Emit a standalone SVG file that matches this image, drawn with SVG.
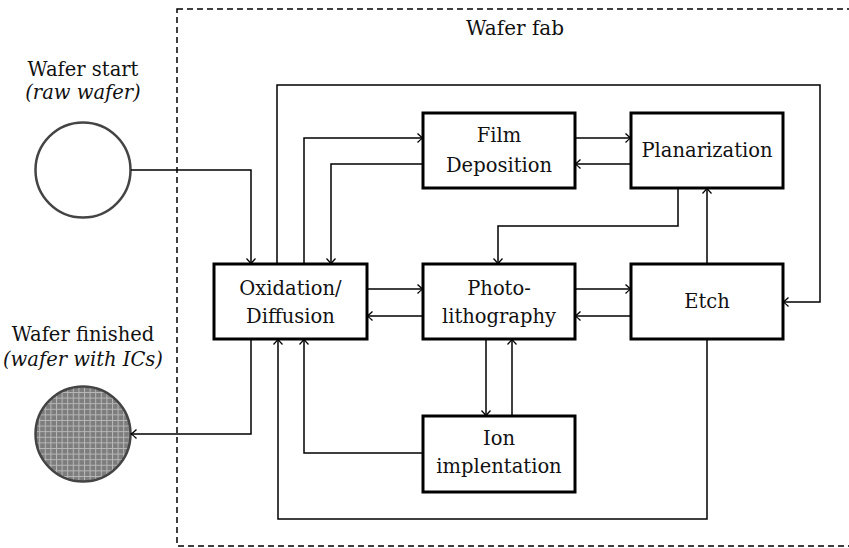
<svg xmlns="http://www.w3.org/2000/svg" width="849" height="548" viewBox="0 0 849 548">
<defs>
<style>
.box{fill:#fff;stroke:#000;stroke-width:3}
.t{font-family:"DejaVu Serif","Liberation Serif",serif;font-size:19.5px;fill:#111;text-anchor:middle}
.it{font-style:italic}
.c{fill:none;stroke:#000;stroke-width:1.5;marker-end:url(#ah)}
</style>
<marker id="ah" markerUnits="userSpaceOnUse" markerWidth="14" markerHeight="14" viewBox="-8 -7 10 14" refX="0" refY="0" orient="auto">
<path d="M-5.5,-4.5 Q-2,-1 0,0 Q-2,1 -5.5,4.5" fill="none" stroke="#000" stroke-width="1.3"/>
</marker>
<pattern id="grid" patternUnits="userSpaceOnUse" width="5.6" height="5.6">
<rect width="5.6" height="5.6" fill="#7d7d7d"/>
<path d="M0,0.5 H5.6 M0.5,0 V5.6" stroke="#b8b8b8" stroke-width="1"/>
</pattern>
</defs>
<rect x="177" y="9" width="700" height="537" fill="none" stroke="#000" stroke-width="1.5" stroke-dasharray="6,4"/>
<text class="t" x="515" y="35" style="font-size:20px">Wafer fab</text>
<g id="start">
<circle cx="83" cy="170" r="47.5" fill="#fff" stroke="#444" stroke-width="2.5"/>
<text class="t" x="83" y="76">Wafer start</text>
<text class="t it" x="83" y="99">(raw wafer)</text>
</g>
<g id="finished">
<circle cx="83" cy="434" r="47.5" fill="url(#grid)" stroke="#444" stroke-width="2.5"/>
<text class="t" x="83" y="341">Wafer finished</text>
<text class="t it" x="83" y="366">(wafer with ICs)</text>
</g>
<g id="connectors">
<path class="c" d="M131,170 H251 V264"/>
<path class="c" d="M277,264 V85 H820 V302 H783"/>
<path class="c" d="M304,264 V138 H423"/>
<path class="c" d="M423,164 H331 V264"/>
<path class="c" d="M575,138 H631"/>
<path class="c" d="M631,164 H575"/>
<path class="c" d="M678,188 V226 H498 V264"/>
<path class="c" d="M707,264 V188"/>
<path class="c" d="M367,289 H423"/>
<path class="c" d="M423,316 H367"/>
<path class="c" d="M575,289 H631"/>
<path class="c" d="M631,316 H575"/>
<path class="c" d="M486,339 V416"/>
<path class="c" d="M512,416 V339"/>
<path class="c" d="M423,453 H304 V339"/>
<path class="c" d="M707,339 V519 H278 V339"/>
<path class="c" d="M251,339 V434 H131"/>
</g>
<g id="oxidation">
<rect class="box" x="214" y="264" width="153" height="75"/>
<text class="t" x="290.5" y="295">Oxidation/</text>
<text class="t" x="290.5" y="323">Diffusion</text>
</g>
<g id="photo">
<rect class="box" x="423" y="264" width="152" height="75"/>
<text class="t" x="499" y="295">Photo-</text>
<text class="t" x="499" y="323">lithography</text>
</g>
<g id="etch">
<rect class="box" x="631" y="264" width="152" height="75"/>
<text class="t" x="707" y="308">Etch</text>
</g>
<g id="film">
<rect class="box" x="423" y="113" width="152" height="75"/>
<text class="t" x="499" y="142">Film</text>
<text class="t" x="499" y="172">Deposition</text>
</g>
<g id="planarization">
<rect class="box" x="631" y="113" width="152" height="75"/>
<text class="t" x="707" y="157">Planarization</text>
</g>
<g id="ion">
<rect class="box" x="423" y="416" width="152" height="76"/>
<text class="t" x="499" y="445">Ion</text>
<text class="t" x="499" y="473">implentation</text>
</g>
</svg>
